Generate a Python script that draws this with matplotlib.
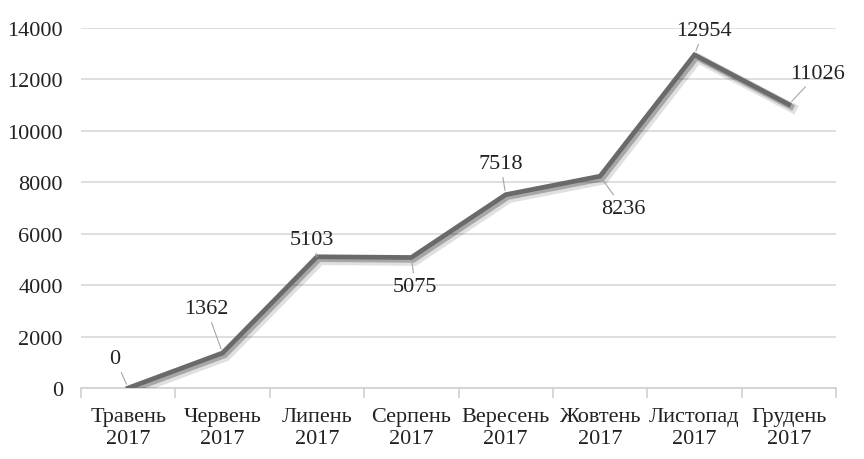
import matplotlib
matplotlib.use("Agg")
import matplotlib.pyplot as plt
import matplotlib.patheffects as pe

categories = ["Травень\n2017", "Червень\n2017", "Липень\n2017", "Серпень\n2017",
              "Вересень\n2017", "Жовтень\n2017", "Листопад\n2017", "Грудень\n2017"]
values = [0, 1362, 5103, 5075, 7518, 8236, 12954, 11026]
yticks = [0, 2000, 4000, 6000, 8000, 10000, 12000, 14000]
# label offsets in pixels (dx, dy) from each point
label_offsets = [(-13, 29), (-16, 44), (-5, 17), (4, -29), (-5, 31), (23, -32), (9, 24), (29, 31)]

plt.rcParams['font.family'] = ['Liberation Serif', 'DejaVu Serif']
fig = plt.figure(figsize=(8.64, 4.6), dpi=100)
ax = fig.add_axes([81/864, 1-389/460, (836-81)/864, (389-29)/460])

x = list(range(len(values)))
ax.plot(x, values, color='#6a6a6a', lw=3.4, solid_joinstyle='miter', zorder=3,
        path_effects=[pe.SimpleLineShadow(offset=(2.5, -2.5), shadow_color='black', alpha=0.12, linewidth=7),
                      pe.SimpleLineShadow(offset=(1.5, -1.5), shadow_color='black', alpha=0.25, linewidth=4.5),
                      pe.Normal()])

for xi, v, (dx, dy) in zip(x, values, label_offsets):
    ax.annotate(str(v), xy=(xi, v), xytext=(dx, dy), textcoords='offset pixels',
                ha='center', va='center', fontsize=16, color='#222222',
                arrowprops=dict(arrowstyle='-', color='#a6a6a6', lw=0.8, shrinkA=1, shrinkB=3),
                zorder=4)

ax.set_xlim(-0.5, len(values) - 0.5)
ax.set_ylim(0, 14000)
ax.set_yticks(yticks)
ax.set_yticklabels([str(t) for t in yticks], fontsize=16, color='#222222')
ax.yaxis.grid(True, color='#d9d9d9', lw=1.2)
ax.set_axisbelow(True)
ax.tick_params(axis='y', length=0, pad=13)

ax.set_xticks(x)
ax.set_xticklabels(categories, fontsize=16, color='#222222', linespacing=1.2)
ax.set_xticks([i + 0.5 for i in range(-1, len(values))], minor=True)
ax.tick_params(axis='x', which='major', length=0, pad=14)
ax.tick_params(axis='x', which='minor', length=7, color='#d0d0d0', width=1.2)

for s in ['top', 'right', 'left']:
    ax.spines[s].set_visible(False)
ax.spines['bottom'].set_color('#d0d0d0')
ax.spines['bottom'].set_linewidth(1.2)

fig.savefig('out.png', dpi=100)
